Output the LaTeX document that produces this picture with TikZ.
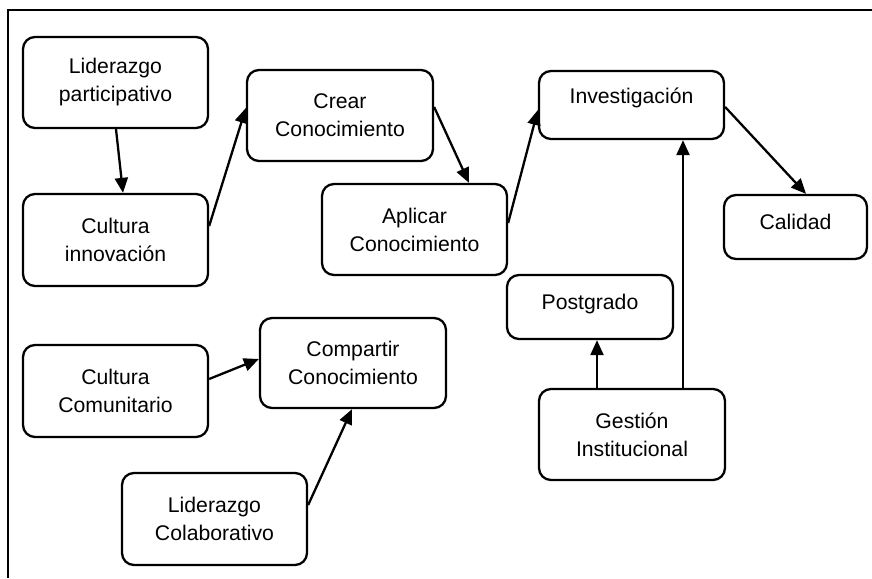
\documentclass[tikz,border=0pt]{standalone}
\usepackage{fontspec}
\setmainfont{Liberation Sans}
\usetikzlibrary{arrows.meta}
\begin{document}
\begin{tikzpicture}[x=1pt,y=-1pt,
  box/.style={draw=black,line width=2.3pt,rounded corners=12pt,inner sep=0pt,
    align=center,font=\fontsize{21.2}{28}\selectfont},
  onerow/.style={text height=16pt,text depth=#1},
  link/.style={line width=2.3pt,-{Triangle[length=15pt,width=13pt]}},
  frame/.style={line width=1.6pt}]
\useasboundingbox (0,0) rectangle (872,578);
% outer frame (top and left edges)
\draw[frame] (872,10) -- (8,10) -- (8,578);

% boxes
\node[box,minimum width=185pt,minimum height=91pt] (lidp) at (115.5,82.5) {Liderazgo\\participativo};
\node[box,minimum width=185pt,minimum height=92pt] (culi) at (115.5,240) {Cultura\\innovación};
\node[box,minimum width=186pt,minimum height=91pt] (crear) at (340,115.5) {Crear\\Conocimiento};
\node[box,minimum width=185pt,minimum height=91pt] (aplic) at (414.5,229.5) {Aplicar\\Conocimiento};
\node[box,onerow=19pt,minimum width=185pt,minimum height=68pt] (inv) at (631.5,105) {Investigación};
\node[box,onerow=11pt,minimum width=143pt,minimum height=64pt] (cal) at (795.5,227) {Calidad};
\node[box,onerow=11pt,minimum width=166pt,minimum height=64pt] (post) at (590,307) {Postgrado};
\node[box,minimum width=186pt,minimum height=91pt] (gest) at (632,434.5) {Gestión\\Institucional};
\node[box,minimum width=185pt,minimum height=92pt] (culc) at (115.5,391) {Cultura\\Comunitario};
\node[box,minimum width=186pt,minimum height=90pt] (comp) at (353,363) {Compartir\\Conocimiento};
\node[box,minimum width=185pt,minimum height=92pt] (lidc) at (214.5,519) {Liderazgo\\Colaborativo};

% connectors
\draw[link] ([xshift=0.5pt]lidp.south) -- ([xshift=7.5pt]culi.north);
\draw[link] ([yshift=14pt]culi.east) -- ([yshift=7.5pt]crear.west);
\draw[link] ([yshift=8.5pt]crear.east) -- ([xshift=54.5pt]aplic.north);
\draw[link] ([yshift=6.5pt]aplic.east) -- ([yshift=-5pt]inv.west);
\draw[link] ([yshift=-2pt]inv.east) -- ([xshift=10.5pt]cal.north);
\coordinate (g1) at ([xshift=51pt]gest.north);
\draw[link] (g1) -- (g1 |- inv.south);
\coordinate (g2) at ([xshift=-35pt]gest.north);
\draw[link] (g2) -- (g2 |- post.south);
\draw[link] ([yshift=12pt]culc.east) -- ([yshift=4pt]comp.west);
\draw[link] ([yshift=14pt]lidc.east) -- ([xshift=-1pt]comp.south);
\end{tikzpicture}
\end{document}
